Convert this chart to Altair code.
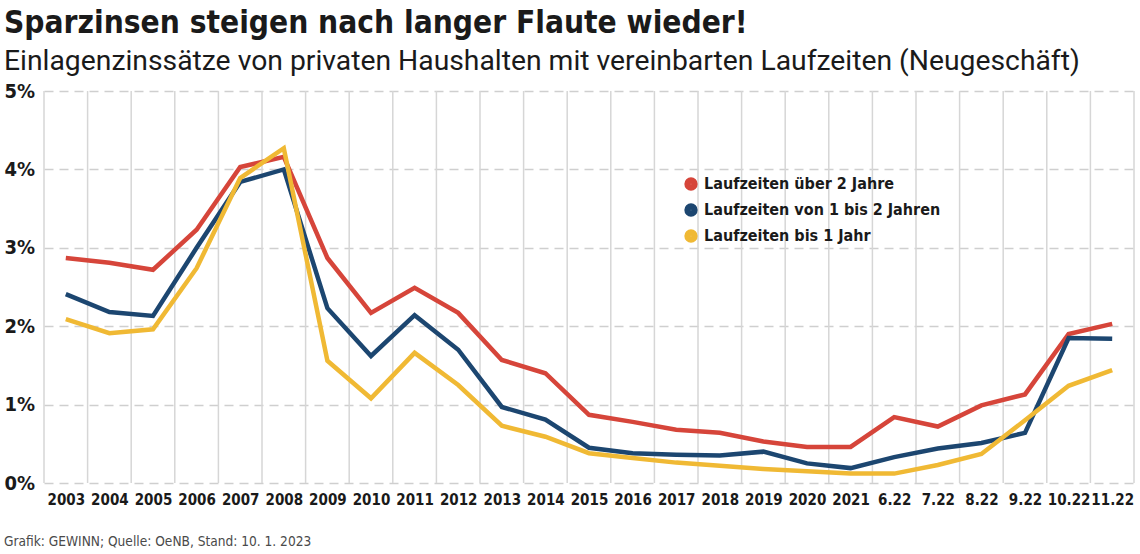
import altair as alt
import pandas as pd

labels = ["2003", "2004", "2005", "2006", "2007", "2008", "2009", "2010", "2011", "2012",
          "2013", "2014", "2015", "2016", "2017", "2018", "2019", "2020", "2021",
          "6.22", "7.22", "8.22", "9.22", "10.22", "11.22"]

over_2 = [2.87, 2.81, 2.72, 3.23, 4.03, 4.16, 2.87, 2.17, 2.49, 2.17,
          1.57, 1.40, 0.87, 0.78, 0.68, 0.64, 0.53, 0.46, 0.46,
          0.84, 0.72, 0.99, 1.13, 1.90, 2.03]
one_to_two = [2.41, 2.18, 2.13, 3.00, 3.84, 4.00, 2.23, 1.62, 2.14, 1.70,
              0.97, 0.81, 0.45, 0.38, 0.36, 0.35, 0.40, 0.25, 0.19,
              0.33, 0.44, 0.51, 0.64, 1.85, 1.84]
up_to_1 = [2.09, 1.91, 1.96, 2.74, 3.89, 4.27, 1.56, 1.08, 1.66, 1.25,
           0.73, 0.59, 0.38, 0.32, 0.26, 0.22, 0.18, 0.15, 0.12,
           0.12, 0.23, 0.37, 0.80, 1.24, 1.44]

series_names = ["Laufzeiten über 2 Jahre", "Laufzeiten von 1 bis 2 Jahren", "Laufzeiten bis 1 Jahr"]
series_colors = ["#d6453a", "#1c4670", "#f0b934"]

title = "Sparzinsen steigen nach langer Flaute wieder!"
subtitle = "Einlagenzinssätze von privaten Haushalten mit vereinbarten Laufzeiten (Neugeschäft)"
footer = "Grafik: GEWINN; Quelle: OeNB, Stand: 10. 1. 2023"

rows = []
for name, vals in zip(series_names, [over_2, one_to_two, up_to_1]):
    for lab, v in zip(labels, vals):
        rows.append({"Zeit": lab, "Serie": name, "Wert": v})
df = pd.DataFrame(rows)

W, H = 1090, 392
COND = "DejaVu Sans Condensed, DejaVu Sans, sans-serif"

lines = alt.Chart(df).mark_line(strokeWidth=4.5, strokeJoin="miter").encode(
    x=alt.X("Zeit:N", sort=labels,
            scale=alt.Scale(type="point", padding=0.5),
            axis=alt.Axis(title=None, grid=False, domain=False, ticks=False,
                          labelAngle=0, labelFont=COND, labelFontWeight="bold",
                          labelFontSize=15, labelColor="#1a1a1a", labelPadding=9)),
    y=alt.Y("Wert:Q", scale=alt.Scale(domain=[0, 5], nice=False),
            axis=alt.Axis(title=None, values=[0, 1, 2, 3, 4, 5], labelExpr="datum.value + '%'",
                          domain=False, ticks=False, tickSize=0, grid=True,
                          gridDash=[9, 6], gridColor="#cfcfcf", gridWidth=1.5,
                          labelAlign="left", labelPadding=40, labelBaseline="middle",
                          labelFont=COND, labelFontWeight="bold", labelFontSize=20,
                          labelColor="#1a1a1a")),
    color=alt.Color("Serie:N",
                    scale=alt.Scale(domain=series_names, range=series_colors),
                    legend=alt.Legend(title=None, orient="none", legendX=639, legendY=85,
                                      padding=0, symbolType="circle", symbolSize=40,
                                      symbolStrokeWidth=7, symbolOpacity=1,
                                      labelFont=COND, labelFontWeight="bold",
                                      labelFontSize=16, labelColor="#1a1a1a",
                                      labelLimit=400, rowPadding=-14, labelOffset=5)),
)

bounds = pd.DataFrame({"b": list(range(len(labels) + 1))})
vgrid = alt.Chart(bounds).mark_rule(color="#d6d6d6", strokeWidth=1.5).encode(
    x=alt.X("b:Q", scale=alt.Scale(domain=[0, len(labels)], nice=False, zero=False), axis=None),
    y=alt.value(0),
    y2=alt.value(H),
)

def text_layer(txt, x, y, size, weight, color, font):
    return alt.Chart(pd.DataFrame({"t": [txt]})).mark_text(
        align="left", baseline="alphabetic", fontSize=size, fontWeight=weight,
        color=color, font=font
    ).encode(x=alt.value(x), y=alt.value(y), text="t:N")

t1 = text_layer(title, -40, -58, 31.4, "bold", "#1a1a1a", COND)
t2 = text_layer(subtitle, -40, -21, 28.3, "normal", "#1a1a1a", "Roboto")
t3 = text_layer(footer, -40, 455, 13.6, "normal", "#4a4a4a", COND)

chart = alt.layer(vgrid, lines, t1, t2, t3).resolve_scale(x="independent").properties(
    width=W, height=H,
    autosize=alt.AutoSizeParams(type="none"),
    padding={"left": 44, "top": 91, "right": 6, "bottom": 71},
    background="white",
).configure_view(stroke=None)

chart.save("out.html", embed_options={"renderer": "svg", "actions": False})
